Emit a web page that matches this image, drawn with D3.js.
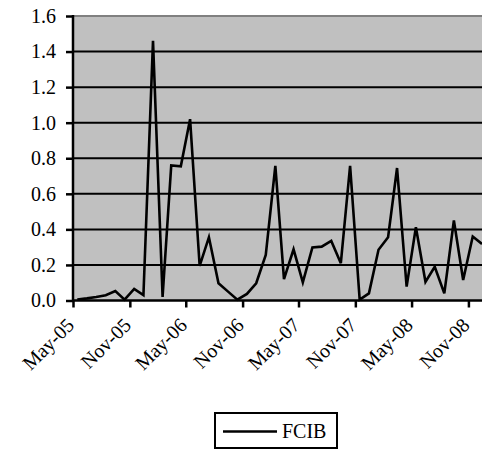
<!DOCTYPE html>
<html>
<head>
<meta charset="utf-8">
<script src="https://cdn.jsdelivr.net/npm/d3@7"></script>
<style>
  body { margin: 0; background: #fff; }
  svg { display: block; }
</style>
</head>
<body>
<svg id="chart" width="482" height="451"></svg>
<script>
// monthly FCIB values, May-05 .. Dec-08
var startMonth = [2005, 4];
var fcib = [0.005, 0.012, 0.02, 0.03, 0.053, 0.005, 0.065, 0.03, 1.46, 0.02,
            0.76, 0.755, 1.02, 0.195, 0.356, 0.097, 0.05, 0.005, 0.037, 0.097,
            0.256, 0.757, 0.12, 0.288, 0.102, 0.298, 0.303, 0.335, 0.21, 0.757,
            0.005, 0.04, 0.285, 0.356, 0.745, 0.078, 0.412, 0.105, 0.19, 0.04,
            0.45, 0.115, 0.36, 0.318];
var yTicks = [0, 0.2, 0.4, 0.6, 0.8, 1.0, 1.2, 1.4, 1.6];
var seriesName = 'FCIB';

var serif = "'Liberation Serif', 'Times New Roman', Times, serif";

(function(){
  var data = fcib.map(function(v, i){
    return { date: new Date(startMonth[0], startMonth[1] + i, 15), value: v };
  });

  var svg = d3.select('#chart');
  var pl = 73, pr = 482, pt = 16, pb = 300.5;

  var x = d3.scaleTime()
    .domain([new Date(2005, 4, 1), data[data.length - 1].date])
    .range([pl, pr]);
  var y = d3.scaleLinear().domain([0, 1.6]).range([pb, pt]);

  // plot background
  svg.append('rect')
    .attr('x', pl).attr('y', pt)
    .attr('width', pr - pl).attr('height', pb - pt)
    .attr('fill', '#c0c0c0');

  // gridlines
  svg.append('g').selectAll('line')
    .data(yTicks.filter(function(d){ return d > 0 && d < 1.6; }))
    .enter().append('line')
    .attr('x1', pl).attr('x2', pr)
    .attr('y1', function(d){ return y(d); })
    .attr('y2', function(d){ return y(d); })
    .attr('stroke', '#000').attr('stroke-width', 2);

  svg.append('line')
    .attr('x1', pl).attr('x2', pr)
    .attr('y1', y(1.6)).attr('y2', y(1.6))
    .attr('stroke', '#808080').attr('stroke-width', 2);

  // y axis
  var yAxis = d3.axisLeft(y)
    .tickValues(yTicks)
    .tickFormat(d3.format('.1f'))
    .tickSize(7)
    .tickPadding(10);
  var gy = svg.append('g').attr('transform', 'translate(' + pl + ',0)').call(yAxis);
  gy.attr('font-family', null).attr('font-size', null);
  gy.select('.domain').remove();
  gy.selectAll('.tick line').attr('stroke', '#000').attr('stroke-width', 2.5);
  gy.selectAll('text')
    .style('font-family', serif)
    .style('font-size', '20px')
    .attr('fill', '#000');

  // x axis, tick every 6 months
  var xTicks = d3.range(0, 8).map(function(i){ return new Date(2005, 4 + i * 6, 1); });
  var xAxis = d3.axisBottom(x)
    .tickValues(xTicks)
    .tickFormat(d3.timeFormat('%b-%y'))
    .tickSize(7);
  var gx = svg.append('g').attr('transform', 'translate(0,' + pb + ')').call(xAxis);
  gx.attr('font-family', null).attr('font-size', null);
  gx.select('.domain').remove();
  gx.selectAll('.tick line').attr('stroke', '#000').attr('stroke-width', 2.5);
  gx.selectAll('text')
    .style('font-family', serif)
    .style('font-size', '20px')
    .attr('fill', '#000')
    .attr('x', 0).attr('y', 0).attr('dy', '0.35em')
    .style('text-anchor', 'end')
    .attr('transform', 'translate(-3,21) rotate(-45)');

  // axis lines
  svg.append('line')
    .attr('x1', pl).attr('x2', pl).attr('y1', pt - 1).attr('y2', pb + 1)
    .attr('stroke', '#000').attr('stroke-width', 2.5);
  svg.append('line')
    .attr('x1', pl - 1).attr('x2', pr).attr('y1', pb).attr('y2', pb)
    .attr('stroke', '#000').attr('stroke-width', 2.5);

  // series
  var line = d3.line()
    .x(function(d){ return x(d.date); })
    .y(function(d){ return y(d.value); });
  svg.append('path')
    .datum(data)
    .attr('d', line)
    .attr('fill', 'none')
    .attr('stroke', '#000')
    .attr('stroke-width', 2.6);

  // legend
  var lg = svg.append('g').attr('transform', 'translate(215,413)');
  lg.append('rect')
    .attr('width', 122).attr('height', 35)
    .attr('fill', '#fff').attr('stroke', '#000').attr('stroke-width', 2);
  lg.append('line')
    .attr('x1', 8).attr('x2', 62).attr('y1', 18.5).attr('y2', 18.5)
    .attr('stroke', '#000').attr('stroke-width', 2.6);
  lg.append('text')
    .attr('x', 67).attr('y', 25)
    .style('font-family', serif)
    .style('font-size', '20px')
    .text(seriesName);
})();
</script>
</body>
</html>
